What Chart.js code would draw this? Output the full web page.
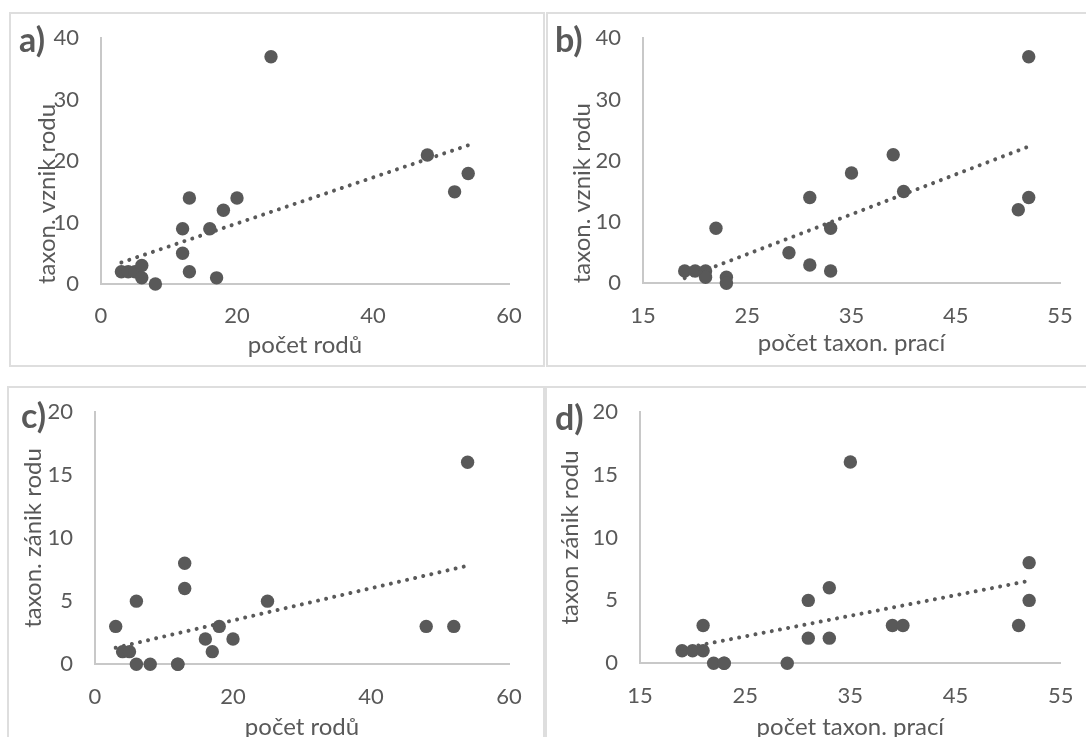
<!DOCTYPE html>
<html>
<head>
<meta charset="utf-8">
<script src="https://cdn.jsdelivr.net/npm/chart.js@4.4.1/dist/chart.umd.min.js"></script>
<style>
  html, body { margin: 0; padding: 0; background: #fff; overflow: hidden; width: 1086px; height: 737px; position: relative; }
  .box { position: absolute; border: 2px solid #dedede; box-sizing: border-box; }
  .plot { position: absolute; }
  .tag { position: absolute; font: bold 34px Lato, sans-serif; line-height: 34px; color: #595959; }
</style>
</head>
<body>
<div class="box" style="left:9px;top:12px;width:536px;height:355px;"></div>
<div class="box" style="left:546px;top:12px;width:600px;height:355px;"></div>
<div class="box" style="left:7px;top:386px;width:538px;height:400px;"></div>
<div class="box" style="left:545px;top:386px;width:600px;height:400px;"></div>

<canvas id="chartA" class="plot" width="534" height="366" style="left:10px;top:0px;"></canvas>
<canvas id="chartB" class="plot" width="560" height="366" style="left:546px;top:0px;"></canvas>
<canvas id="chartC" class="plot" width="536" height="396" style="left:8px;top:370px;"></canvas>
<canvas id="chartD" class="plot" width="560" height="396" style="left:546px;top:370px;"></canvas>

<div class="tag" style="left:19px;top:22px;">a)</div>
<div class="tag" style="left:555px;top:22px;">b)</div>
<div class="tag" style="left:21px;top:398px;">c)</div>
<div class="tag" style="left:555px;top:400px;">d)</div>

<script>
// počet rodů vs. taxon. vznik rodu
const generaA = [3, 4, 5, 6, 6, 8, 12, 12, 13, 13, 16, 17, 18, 20, 25, 48, 52, 54];
const originA = [2, 2, 2, 3, 1, 0, 9, 5, 14, 2, 9, 1, 12, 14, 37, 21, 15, 18];

// počet taxon. prací vs. taxon. vznik rodu
const papersB = [19, 20, 21, 21, 22, 23, 23, 29, 31, 31, 33, 33, 35, 39, 40, 51, 52, 52];
const originB = [2, 2, 2, 1, 9, 1, 0, 5, 14, 3, 9, 2, 18, 21, 15, 12, 14, 37];

// počet rodů vs. taxon. zánik rodu
const generaC = [3, 4, 5, 6, 6, 8, 12, 12, 13, 13, 16, 17, 18, 20, 25, 48, 52, 54];
const extinctC = [3, 1, 1, 5, 0, 0, 0, 0, 8, 6, 2, 1, 3, 2, 5, 3, 3, 16];

// počet taxon. prací vs. taxon zánik rodu
const papersD = [19, 20, 21, 21, 22, 23, 23, 29, 31, 31, 33, 33, 35, 39, 40, 51, 52, 52];
const extinctD = [1, 1, 1, 3, 0, 0, 0, 0, 5, 2, 6, 2, 16, 3, 3, 3, 8, 5];

const TEXT = "#595959";
const MARK = "#595959";
const AXIS = "#c8c8c8";
const tickFont = { family: "Lato", size: 22 };
const titleFont = { family: "Lato", size: 24 };

// linear trendline (least squares), like the Excel one
function trendline(xs, ys) {
  const n = xs.length;
  const mx = xs.reduce((a, b) => a + b, 0) / n;
  const my = ys.reduce((a, b) => a + b, 0) / n;
  let sxy = 0, sxx = 0;
  xs.forEach((x, i) => {
    sxy += (x - mx) * (ys[i] - my);
    sxx += (x - mx) * (x - mx);
  });
  const k = sxy / sxx;
  const x0 = Math.min(...xs), x1 = Math.max(...xs);
  return [{ x: x0, y: my + k * (x0 - mx) }, { x: x1, y: my + k * (x1 - mx) }];
}

function drawPanel(id, xs, ys, p) {
  const points = xs.map((x, i) => ({ x: x, y: ys[i] }));
  new Chart(document.getElementById(id), {
    type: "scatter",
    data: {
      datasets: [
        {
          data: trendline(xs, ys),
          showLine: true,
          borderColor: MARK,
          borderWidth: 4,
          borderDash: [0.01, 8.3],
          borderCapStyle: "round",
          pointRadius: 0,
          clip: false
        },
        {
          data: points,
          backgroundColor: MARK,
          borderWidth: 0,
          pointRadius: 6.7,
          pointHoverRadius: 6.7,
          clip: false
        }
      ]
    },
    options: {
      responsive: false,
      animation: false,
      events: [],
      layout: { padding: { left: 0, top: p.top, right: p.right, bottom: 0 } },
      plugins: { legend: { display: false }, tooltip: { enabled: false } },
      scales: {
        x: {
          type: "linear",
          min: p.xMin,
          max: p.xMax,
          ticks: { stepSize: p.xStep, padding: 19, color: TEXT, font: tickFont, maxRotation: 0 },
          grid: { display: false, drawTicks: false },
          border: { color: AXIS, width: 2 },
          title: { display: true, text: p.xTitle, color: TEXT, font: titleFont, padding: { top: 0, bottom: p.xTitlePad } },
          afterFit: (s) => { s.height = p.xH; }
        },
        y: {
          type: "linear",
          min: 0,
          max: p.yMax,
          ticks: { stepSize: p.yStep, padding: 22, color: TEXT, font: tickFont },
          grid: { display: false, drawTicks: false },
          border: { color: AXIS, width: 2 },
          title: { display: true, text: p.yTitle, color: TEXT, font: titleFont, align: p.yAlign, padding: { top: p.yTitlePad, bottom: 0 } },
          afterFit: (s) => { s.width = p.yW; }
        }
      }
    }
  });
}

drawPanel("chartA", generaA, originA, {
  xMin: 0, xMax: 60, xStep: 20, yMax: 40, yStep: 10,
  xTitle: "počet rodů", yTitle: "taxon. vznik rodu", yAlign: "start",
  top: 38.3, right: 35, yW: 91, xH: 82, yTitlePad: 22.4, xTitlePad: 6
});

drawPanel("chartB", papersB, originB, {
  xMin: 15, xMax: 55, xStep: 10, yMax: 40, yStep: 10,
  xTitle: "počet taxon. prací", yTitle: "taxon. vznik rodu", yAlign: "start",
  top: 38.3, right: 46, yW: 97, xH: 82.7, yTitlePad: 21.4, xTitlePad: 8
});

drawPanel("chartC", generaC, extinctC, {
  xMin: 0, xMax: 60, xStep: 20, yMax: 20, yStep: 5,
  xTitle: "počet rodů", yTitle: "taxon. zánik rodu", yAlign: "center",
  top: 41.7, right: 35, yW: 87, xH: 101.7, yTitlePad: 10.5, xTitlePad: 24.6
});

drawPanel("chartD", papersD, extinctD, {
  xMin: 15, xMax: 55, xStep: 10, yMax: 20, yStep: 5,
  xTitle: "počet taxon. prací", yTitle: "taxon zánik rodu", yAlign: "center",
  top: 41.7, right: 45.3, yW: 94, xH: 102.7, yTitlePad: 10.3, xTitlePad: 24.6
});
</script>
</body>
</html>
